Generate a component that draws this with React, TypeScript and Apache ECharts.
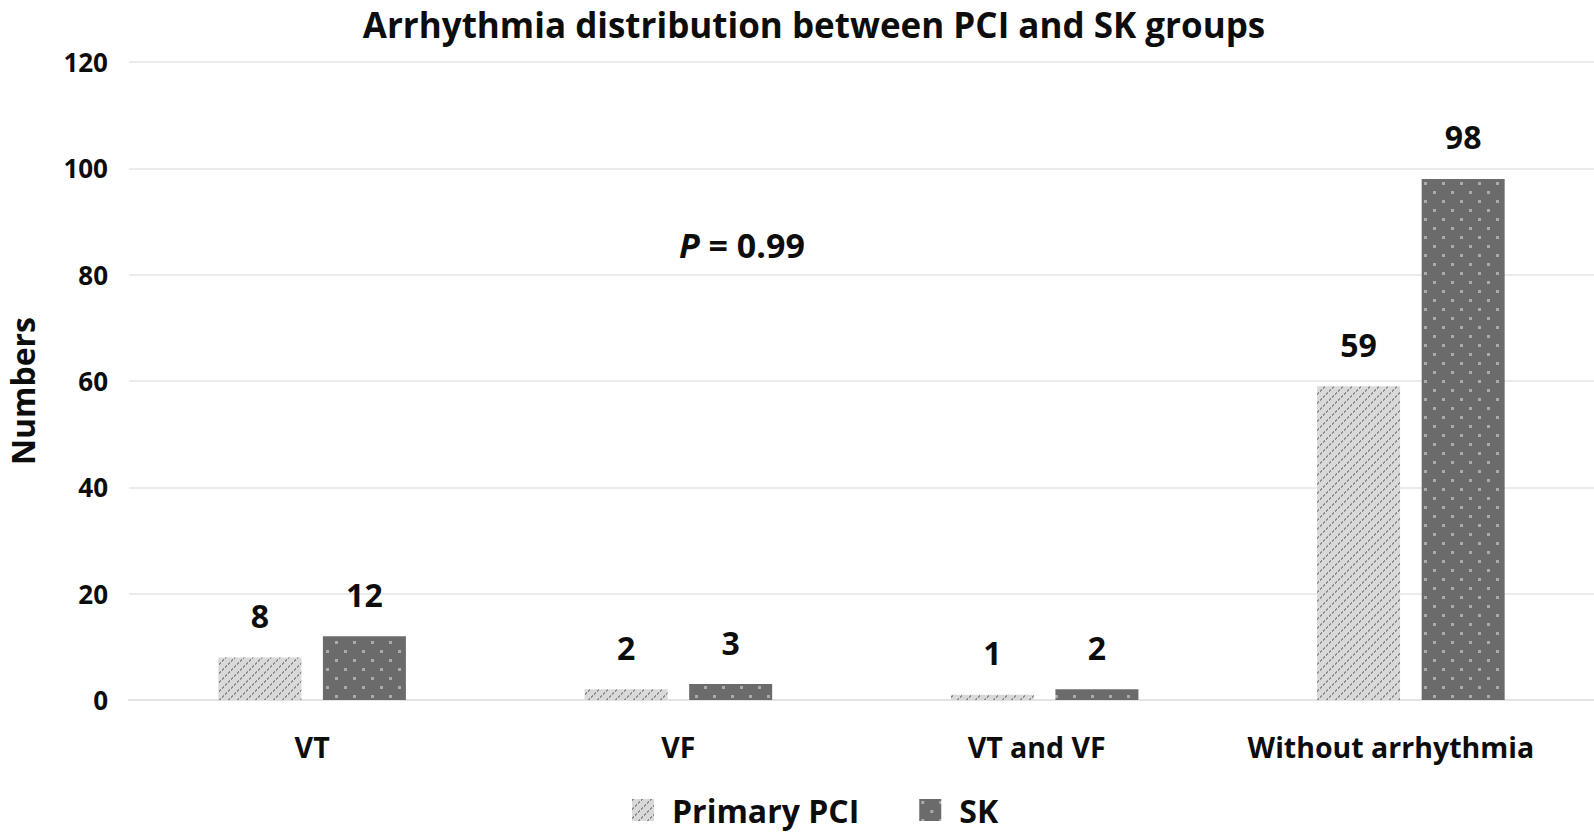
import React, { useEffect, useRef } from "react";
import * as echarts from "echarts";

const categories = ["VT", "VF", "VT and VF", "Without arrhythmia"];
const pciValues = [8, 2, 1, 59];
const skValues = [12, 3, 2, 98];
const yTicks = [0, 20, 40, 60, 80, 100, 120];
const seriesNames = ["Primary PCI", "SK"];
const labelShiftRight = [0, 0, 16, 40];

const FONT = "'Open Sans', Lato, sans-serif";
const INK = "#0d0d0d";

function makeDiagTile(): HTMLCanvasElement {
  const c = document.createElement("canvas");
  const n = 9;
  c.width = n;
  c.height = n;
  const ctx = c.getContext("2d")!;
  ctx.fillStyle = "#d9d9d9";
  ctx.fillRect(0, 0, n, n);
  ctx.fillStyle = "#8c8c8c";
  for (let x = 0; x < n; x++) {
    for (let y = 0; y < n; y++) {
      const k = (x + y) % n;
      if ((k === 0 || k === 1) && x % 3 !== 2) ctx.fillRect(x, y, 1, 1);
    }
  }
  return c;
}

function makeDotTile(): HTMLCanvasElement {
  const c = document.createElement("canvas");
  const n = 18;
  c.width = n;
  c.height = n;
  const ctx = c.getContext("2d")!;
  ctx.fillStyle = "#6b6b6b";
  ctx.fillRect(0, 0, n, n);
  ctx.fillStyle = "#ababab";
  ctx.fillRect(2, 2, 3, 3);
  ctx.fillRect(11, 11, 3, 3);
  return c;
}

export default function App() {
  const ref = useRef<HTMLDivElement>(null);
  useEffect(() => {
    if (!ref.current) return;
    const chart = echarts.init(ref.current, undefined, { renderer: "svg" });
    const diag = makeDiagTile();
    const dots = makeDotTile();
    const labelStyle = {
      show: true,
      position: "top" as const,
      distance: 26,
      fontFamily: FONT,
      fontWeight: "bold" as const,
      fontSize: 32,
      color: INK,
    };
    chart.setOption({
      animation: false,
      backgroundColor: "#ffffff",
      title: {
        text: "Arrhythmia distribution between PCI and SK groups",
        left: 809,
        top: 2,
        textAlign: "center",
        textStyle: { fontFamily: FONT, fontWeight: "bold", fontSize: 35, color: INK },
      },
      grid: { left: 129, right: 0, top: 62, bottom: 136 },
      legend: {
        data: seriesNames,
        left: 627,
        top: 789,
        icon: "rect",
        itemWidth: 22,
        itemHeight: 22,
        itemGap: 60,
        textStyle: { fontFamily: FONT, fontWeight: "bold", fontSize: 32, color: INK, padding: [0, 0, 0, 13] },
      },
      xAxis: {
        type: "category",
        data: categories.map((c, i) => ({
          value: c,
          textStyle: { padding: [0, labelShiftRight[i], 0, 0] },
        })),
        axisLine: { show: true, lineStyle: { color: "#e3e3e3", width: 2 } },
        axisTick: { show: false },
        axisLabel: { interval: 0, margin: 32, fontFamily: FONT, fontWeight: "bold", fontSize: 28.5, color: INK },
      },
      yAxis: {
        type: "value",
        min: yTicks[0],
        max: yTicks[yTicks.length - 1],
        interval: 20,
        axisLine: { show: false },
        axisTick: { show: false },
        splitLine: { lineStyle: { color: "#ebebeb", width: 2 } },
        axisLabel: { margin: 21, fontFamily: FONT, fontWeight: "bold", fontSize: 26, color: INK },
      },
      series: [
        {
          name: seriesNames[0],
          type: "bar",
          data: pciValues,
          barWidth: 83,
          barGap: "26%",
          itemStyle: { color: { image: diag, repeat: "repeat" } },
          label: labelStyle,
        },
        {
          name: seriesNames[1],
          type: "bar",
          data: skValues,
          barWidth: 83,
          itemStyle: { color: { image: dots, repeat: "repeat" } },
          label: labelStyle,
        },
      ],
      graphic: [
        {
          type: "text",
          x: 22,
          y: 391,
          rotation: Math.PI / 2,
          style: {
            text: "Numbers",
            fontFamily: FONT,
            fontWeight: "bold",
            fontSize: 32,
            fill: INK,
            align: "center",
            verticalAlign: "middle",
          },
        },
        {
          type: "text",
          left: 679,
          top: 228,
          style: {
            text: "{i|P}{n| = 0.99}",
            rich: {
              i: { fontFamily: FONT, fontWeight: "bold", fontStyle: "italic", fontSize: 34, fill: INK },
              n: { fontFamily: FONT, fontWeight: "bold", fontSize: 34, fill: INK },
            },
          },
        },
      ],
    });
    return () => chart.dispose();
  }, []);
  return (
    <div
      ref={ref}
      style={{ position: "fixed", left: 0, top: 0, width: 1594, height: 836 }}
    />
  );
}
